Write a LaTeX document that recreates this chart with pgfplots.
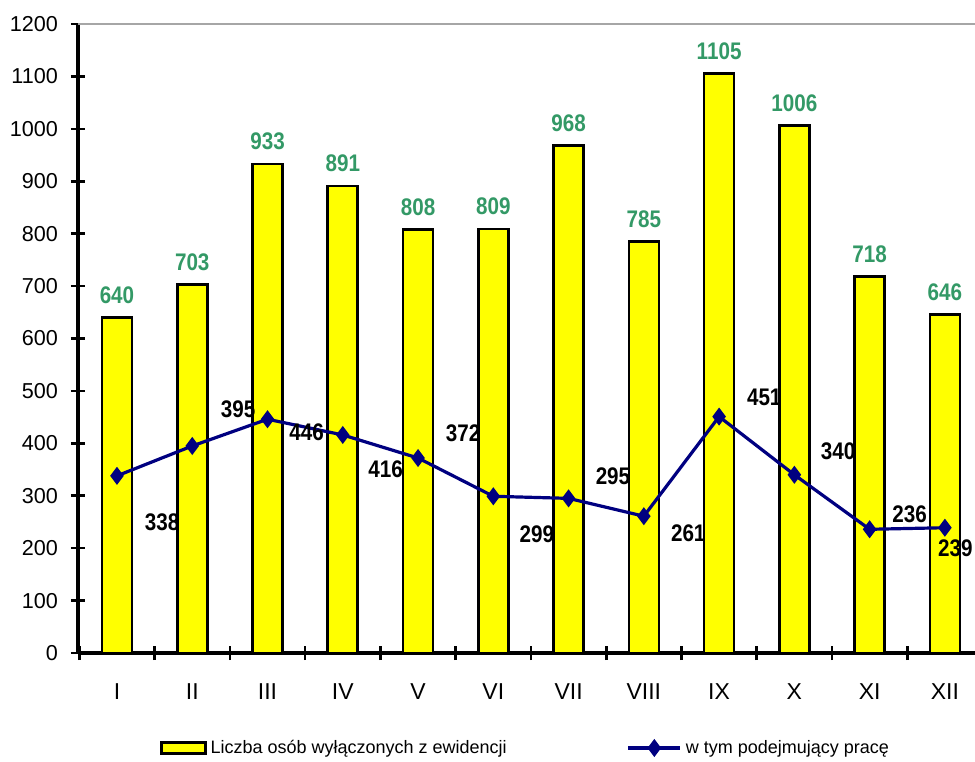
\documentclass[border=0pt]{standalone}
\usepackage{pgfplots}
\pgfplotsset{compat=1.18}
\usepackage{pgfplotstable}
\usepackage{fontspec}
\setmainfont{Liberation Sans}
\newfontfamily\narrow[FakeStretch=0.86]{Liberation Sans}
\definecolor{baryellow}{HTML}{FFFF00}
\definecolor{labgreen}{HTML}{339966}
\definecolor{navyline}{HTML}{000080}

\pgfplotstableread{
x val
0 640
1 703
2 933
3 891
4 808
5 809
6 968
7 785
8 1105
9 1006
10 718
11 646
}\bars

\pgfplotstableread{
x val
0 338
1 395
2 446
3 416
4 372
5 299
6 295
7 261
8 451
9 340
10 236
11 239
}\linedata

\pgfplotstableread{
x y label
0.60 250 338
1.61 465 395
2.52 422 446
3.57 351 416
4.60 420 372
5.58 227 299
6.59 338 295
7.59 229 261
8.60 487 451
9.58 384 340
10.53 265 236
11.14 200 239
}\linelabels

\begin{document}
\begin{tikzpicture}
\begin{axis}[
  scale only axis,
  width=448.5pt, height=314.5pt,
  xmin=-0.518, xmax=11.4,
  ymin=0, ymax=1200,
  axis x line=bottom, axis y line=left,
  axis line style={line width=1.6pt, -, black},
  x axis line style={line width=1.6pt, -, black},
  y axis line style={line width=1.6pt, -, black},
  tick align=center,
  ytick={0,100,...,1200},
  major tick length=7pt,
  y tick style={black, line width=1.3pt},
  xtick={0,...,11},
  xticklabels={I,II,III,IV,V,VI,VII,VIII,IX,X,XI,XII},
  x tick style={draw=none},
  minor xtick={-0.5,0.5,...,10.5},
  minor tick length=7pt,
  minor x tick style={draw=black, line width=1.3pt},
  /pgf/number format/assume math mode=true,
  /pgf/number format/1000 sep={},
  yticklabel style={font=\fontsize{10.8}{13}\selectfont, xshift=-3pt},
  xticklabel style={font=\fontsize{11.5}{13}\selectfont, yshift=-8.5pt},
  legend style={at={(0.5,0)}, anchor=center, yshift=-47.5pt, draw=none,
    font=\fontsize{9}{11}\selectfont, legend columns=2,
    /tikz/every even column/.append style={column sep=58pt}},
  clip=false,
  after end axis/.code={
    \draw[gray!70, line width=1pt] (rel axis cs:0,1) -- (rel axis cs:1,1);
    \coordinate (SW) at (rel axis cs:0,0);
    \coordinate (NE) at (rel axis cs:1,1);
  },
]
\addplot[ybar, bar width=15pt, fill=baryellow, draw=black, line width=1.3pt,
  nodes near coords,
  nodes near coords style={font=\narrow\bfseries\fontsize{12}{14}\selectfont, text=labgreen, yshift=3pt, /pgf/number format/assume math mode=true, /pgf/number format/1000 sep={}},
  legend image code/.code={\draw[fill=baryellow, draw=black, line width=1.3pt] (0pt,-2.75pt) rectangle (22pt,2.75pt);}
] table[x=x, y=val] {\bars};
\addlegendentry{Liczba osób wyłączonych z ewidencji}

\addplot[navyline, line width=1.6pt, mark=diamond*, mark size=3.2pt, mark options={fill=navyline, draw=navyline},
  legend image code/.code={\draw[mark repeat=2, mark phase=2] plot coordinates {(0pt,0pt) (13pt,0pt) (26pt,0pt)};}
] table[x=x, y=val] {\linedata};
\addlegendentry{w tym podejmujący pracę}

\addplot[draw=none, mark=none, forget plot,
  nodes near coords, point meta=explicit symbolic,
  nodes near coords style={anchor=center, font=\narrow\bfseries\fontsize{12}{14}\selectfont, text=black}
] table[x=x, y=y, meta=label] {\linelabels};
\end{axis}
\pgfresetboundingbox
\path ([xshift=-39pt,yshift=-54pt]SW) rectangle ([yshift=12pt]NE);
\end{tikzpicture}
\end{document}
